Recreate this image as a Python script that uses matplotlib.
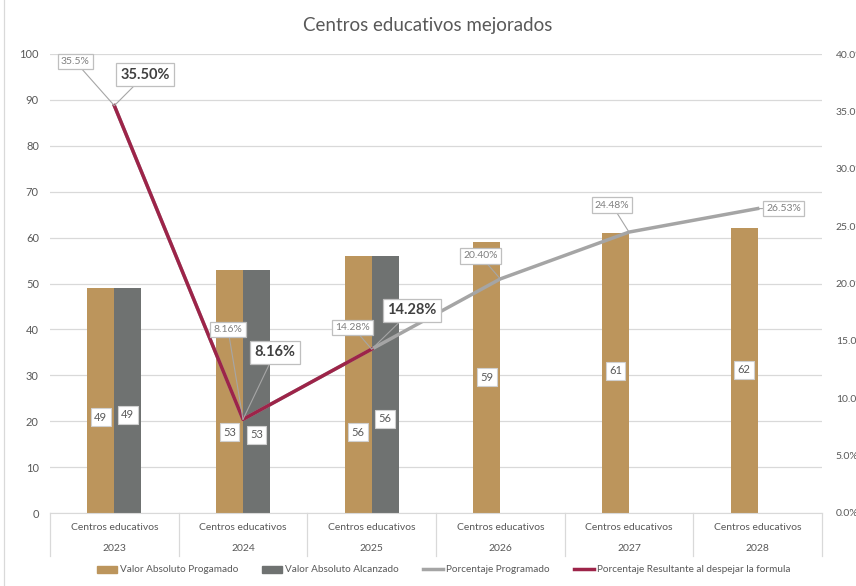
import matplotlib
matplotlib.use("Agg")
import matplotlib.pyplot as plt
import matplotlib.transforms as mtransforms
from matplotlib.lines import Line2D
from matplotlib.patches import Patch

plt.rcParams['font.family'] = ['Lato', 'DejaVu Sans']

# data
years = ["2023", "2024", "2025", "2026", "2027", "2028"]
category = "Centros educativos"
programado = [49, 53, 56, 59, 61, 62]
alcanzado = [49, 53, 56, None, None, None]
pct_programado = [35.5, 8.16, 14.28, 20.40, 24.48, 26.53]
pct_resultante = [35.50, 8.16, 14.28]
pct_prog_labels = ["35.5%", "8.16%", "14.28%", "20.40%", "24.48%", "26.53%"]
pct_res_labels = ["35.50%", "8.16%", "14.28%"]

# label placement (layout only)
prog_lbl_y = [20.9, 17.6, 17.6, 29.6, 31.0, 31.2]
alc_lbl_y = [21.4, 17.0, 20.5]
prog_pct_off = [(-39, 44), (-15, 90), (-19, 22), (-20, 23), (-17, 27), (26, 0)]
res_pct_off = [(31, 31), (32, 67), (40, 39)]

brown = "#BC955C"
dgray = "#6F7271"
lgray = "#A5A5A5"
red = "#9D2449"
txt = "#595959"

fig = plt.figure(figsize=(8.56, 5.86), dpi=100)
ax = fig.add_axes([50/856, 73/586, 772/856, 459/586])
ax2 = ax.twinx()

x = list(range(len(years)))
w = 0.21
ax.bar([i - w/2 for i in x], programado, width=w, color=brown, zorder=2)
xa = [i + w/2 for i, v in zip(x, alcanzado) if v is not None]
va = [v for v in alcanzado if v is not None]
ax.bar(xa, va, width=w, color=dgray, zorder=2)

box = dict(boxstyle="square,pad=0.3", fc="white", ec="#D0D0D0", lw=0.8)
for i, v in enumerate(programado):
    ax.text(i - w/2, prog_lbl_y[i], str(v), ha="center", va="center",
            fontsize=8, color=txt, bbox=box, zorder=5)
for i, v in enumerate(va):
    ax.text(xa[i], alc_lbl_y[i], str(v), ha="center", va="center",
            fontsize=8, color=txt, bbox=box, zorder=5)

ax.set_xlim(-0.5, 5.5)
ax.set_ylim(0, 100)
ax.set_yticks(range(0, 101, 10))
ax.grid(axis="y", color="#D9D9D9", lw=0.9, zorder=0)
ax.set_axisbelow(True)
ax.tick_params(axis="y", length=0, labelsize=8, colors=txt, pad=8)
ax.set_xticks([])
for s in ["top", "right", "left"]:
    ax.spines[s].set_visible(False)
ax.spines["bottom"].set_color("#D9D9D9")

# two-level category axis
trans = mtransforms.blended_transform_factory(ax.transData, ax.transAxes)
for b in [i - 0.5 for i in range(len(years) + 1)]:
    ax.plot([b, b], [0, -0.094], transform=trans, color="#D9D9D9", lw=0.9, clip_on=False)
for i, yr in enumerate(years):
    ax.text(i, -0.031, category, transform=trans, ha="center", va="center", fontsize=7.5, color=txt)
    ax.text(i, -0.077, yr, transform=trans, ha="center", va="center", fontsize=7.5, color=txt)

ax2.plot(x, pct_programado, color=lgray, lw=2.5, zorder=3)
ax2.plot(x[:len(pct_resultante)], pct_resultante, color=red, lw=2.5, zorder=4)
ax2.set_ylim(0, 40)
ax2.set_yticks(range(0, 41, 5))
ax2.set_yticklabels(["%.1f%%" % t for t in range(0, 41, 5)])
ax2.tick_params(axis="y", length=0, labelsize=7.5, colors=txt, pad=10)
for s in ax2.spines.values():
    s.set_visible(False)

gbox = dict(boxstyle="square,pad=0.3", fc="white", ec="#BFBFBF", lw=0.9)
for i, (v, lab) in enumerate(zip(pct_programado, pct_prog_labels)):
    ax2.annotate(lab, xy=(i, v), xytext=prog_pct_off[i], textcoords="offset pixels",
                 ha="center", va="center", fontsize=7.5, color="#7F7F7F", bbox=gbox,
                 arrowprops=dict(arrowstyle="-", color="#A6A6A6", lw=0.8, shrinkA=0, shrinkB=0),
                 zorder=6)
for i, (v, lab) in enumerate(zip(pct_resultante, pct_res_labels)):
    ax2.annotate(lab, xy=(i, v), xytext=res_pct_off[i], textcoords="offset pixels",
                 ha="center", va="center", fontsize=10.5, fontweight="bold", color="#404040",
                 bbox=gbox,
                 arrowprops=dict(arrowstyle="-", color="#A6A6A6", lw=0.8, shrinkA=0, shrinkB=0),
                 zorder=6)

fig.text(0.5, 1 - 25/586, "Centros educativos mejorados", ha="center", va="center",
         fontsize=13.5, color=txt)

handles = [Patch(color=brown), Patch(color=dgray),
           Line2D([], [], color=lgray, lw=2.5), Line2D([], [], color=red, lw=2.5)]
labels = ["Valor Absoluto Progamado", "Valor Absoluto Alcanzado",
          "Porcentaje Programado", "Porcentaje Resultante al despejar la formula"]
fig.legend(handles, labels, loc="center", bbox_to_anchor=(0.518, 1 - 570/586), ncol=4,
           frameon=False, fontsize=7.2, handlelength=2.0, handleheight=0.7,
           handletextpad=0.3, columnspacing=2.4, labelcolor=txt)

fig.add_artist(Line2D([4/856, 4/856], [0, 1], color="#D9D9D9", lw=0.9))

fig.savefig("out.png", dpi=100)
